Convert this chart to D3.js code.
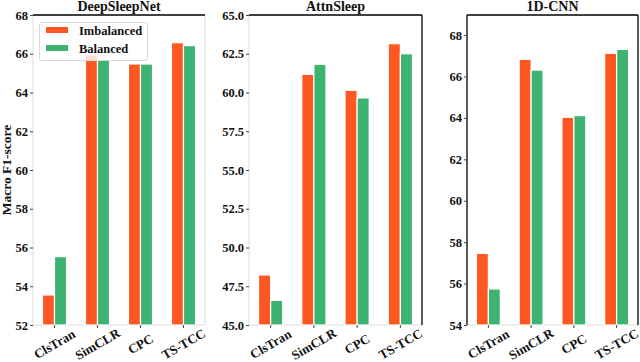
<!DOCTYPE html>
<html><head><meta charset="utf-8">
<script src="https://cdn.jsdelivr.net/npm/d3@7"></script>
<style>body{margin:0;background:#fff}svg{display:block}</style>
</head><body><svg id="c" width="640" height="362"></svg>
<script>
const methods = ["ClsTran","SimCLR","CPC","TS-TCC"];
const seriesNames = ["Imbalanced","Balanced"];
const panelTitles = ["DeepSleepNet","AttnSleep","1D-CNN"];
const deepSleepNetImb = [53.55, 65.94, 65.47, 66.57];
const deepSleepNetBal = [55.53, 65.71, 65.47, 66.42];
const attnSleepImb = [48.23, 61.17, 60.14, 63.15];
const attnSleepBal = [46.59, 61.82, 59.65, 62.50];
const cnnImb = [57.46, 66.83, 64.03, 67.12];
const cnnBal = [55.74, 66.31, 64.11, 67.31];
const yDomains = [[52,68],[45,65],[54,68.97]];
const yTicks = [[52,54,56,58,60,62,64,66,68],[45,47.5,50,52.5,55,57.5,60,62.5,65],[54,56,58,60,62,64,66,68]];
const yFormats = ["d",".1f","d"];

const colors = ["#FF5722","#3CB371"];
const font = "'Liberation Serif','Times New Roman',serif";
const panels = [
  {x0:33,x1:205,imb:deepSleepNetImb,bal:deepSleepNetBal,spines:{top:1,left:0,right:0}},
  {x0:249,x1:422,imb:attnSleepImb,bal:attnSleepBal,spines:{top:1,left:0,right:1}},
  {x0:467,x1:638,imb:cnnImb,bal:cnnBal,spines:{top:1,left:1,right:1}}
];
const yTop = 15, yBot = 325;
const svg = d3.select("#c");
const light = "#dcdcdc";

panels.forEach((p,i)=>{
  const g = svg.append("g");
  const x = d3.scaleBand().domain(methods).range([p.x0,p.x1]);
  const y = d3.scaleLinear().domain(yDomains[i]).range([yBot,yTop]);
  const bw = x.bandwidth()*0.28;
  g.append("line").attr("x1",p.x0).attr("x2",p.x1).attr("y1",yBot).attr("y2",yBot).attr("stroke",light).attr("stroke-width",1);
  g.append("line").attr("x1",p.x0).attr("x2",p.x0).attr("y1",yTop).attr("y2",yBot).attr("stroke",p.spines.left?"#000":light).attr("stroke-width",p.spines.left?1.3:1);
  g.append("line").attr("x1",p.x1).attr("x2",p.x1).attr("y1",yTop).attr("y2",yBot).attr("stroke",p.spines.right?"#000":light).attr("stroke-width",p.spines.right?1.3:1);
  [p.imb,p.bal].forEach((vals,s)=>{
    g.selectAll(null).data(vals).enter().append("rect")
      .attr("x",(d,k)=>x(methods[k])+x.bandwidth()/2 + (s===0?-bw:0))
      .attr("y",d=>y(d))
      .attr("width",bw)
      .attr("height",d=>yBot-y(d))
      .attr("fill",colors[s])
      .attr("stroke","#fff").attr("stroke-width",1.2);
  });
  g.append("line").attr("x1",p.x0).attr("x2",p.x1).attr("y1",yTop).attr("y2",yTop).attr("stroke","#000").attr("stroke-width",1.3);
  const ya = d3.axisLeft(y).tickValues(yTicks[i]).tickFormat(d3.format(yFormats[i])).tickSize(3).tickPadding(2);
  const yg = g.append("g").attr("transform",`translate(${p.x0},0)`).call(ya);
  yg.select(".domain").remove();
  yg.selectAll(".tick line").attr("stroke","#444");
  yg.selectAll(".tick text").attr("font-family",font).attr("font-weight","bold").attr("font-size",12.5).attr("fill","#111");
  const xa = d3.axisBottom(x).tickSize(3).tickFormat(()=>"");
  const xg = g.append("g").attr("transform",`translate(0,${yBot})`).call(xa);
  xg.select(".domain").remove();
  xg.selectAll(".tick line").attr("stroke","#444");
  g.selectAll(null).data(methods).enter().append("text")
    .attr("transform",d=>`translate(${x(d)+x.bandwidth()/2},${344}) rotate(-30)`)
    .attr("text-anchor","middle").attr("dominant-baseline","central")
    .attr("font-family",font).attr("font-weight","bold").attr("font-size",13).attr("fill","#111")
    .text(d=>d);
  g.append("text").attr("x",(p.x0+p.x1)/2).attr("y",11).attr("text-anchor","middle")
    .attr("font-family",font).attr("font-weight","bold").attr("font-size",14).attr("fill","#111")
    .text(panelTitles[i]);
});

svg.append("text").attr("transform","translate(11,170) rotate(-90)").attr("text-anchor","middle")
  .attr("font-family",font).attr("font-weight","bold").attr("font-size",13.5).attr("fill","#111")
  .text("Macro F1-score");

const lg = svg.append("g");
lg.append("rect").attr("x",39.5).attr("y",22.5).attr("width",108).attr("height",38).attr("rx",2)
  .attr("fill","#fff").attr("fill-opacity",0.8).attr("stroke","#d8d8d8").attr("stroke-width",1);
seriesNames.forEach((n,s)=>{
  lg.append("rect").attr("x",46).attr("y",27+s*18).attr("width",22).attr("height",6).attr("fill",colors[s]);
  lg.append("text").attr("x",79).attr("y",35+s*18).attr("font-family",font).attr("font-weight","bold")
    .attr("font-size",12.5).attr("fill","#111").text(n);
});
</script></body></html>
